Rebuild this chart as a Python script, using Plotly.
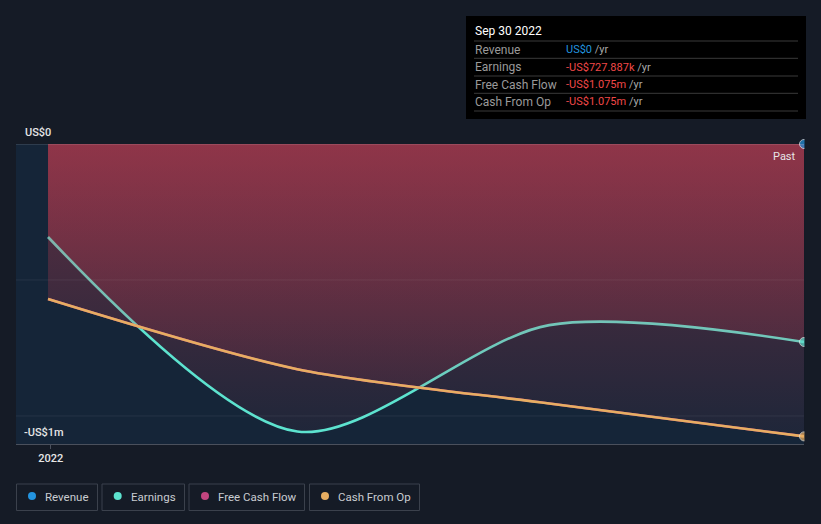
import plotly.graph_objects as go

# ---------------- data ----------------
dates = ["2021-12-31", "2022-03-31", "2022-06-30", "2022-09-30"]
revenue = [0, 0, 0, 0]
earnings = [-342000, -1057000, -666000, -727887]
free_cash_flow = [-570000, -828000, -954000, -1075000]
cash_from_op = [-570000, -828000, -954000, -1075000]

legend_names = ["Revenue", "Earnings", "Free Cash Flow", "Cash From Op"]
legend_colors = ["#2394df", "#5de3cf", "#c2457f", "#e7ae62"]

tip_title = "Sep 30 2022"
tip_labels = ["Revenue", "Earnings", "Free Cash Flow", "Cash From Op"]
tip_values = ["US$0", "-US$727.887k", "-US$1.075m", "-US$1.075m"]
tip_colors = ["#2394df", "#f04848", "#f04848", "#f04848"]

y_labels = ["US$0", "-US$1m"]
x_tick_vals = ["2022-01-01"]
x_tick_text = ["2022"]

W, H = 821, 524
L, R, T, B = 16, 804, 144, 444
YMIN, YMAX = -1103000, 0


def px(x):
    return (x - L) / (R - L)


def py(y):
    return (B - y) / (B - T)


FONT = "Roboto"
fill_scale = [
    [0.0, "rgba(212,62,82,0.04)"],
    [0.25, "rgba(212,62,82,0.13)"],
    [0.45, "rgba(212,62,82,0.20)"],
    [0.70, "rgba(212,62,82,0.29)"],
    [1.0, "rgba(212,62,82,0.40)"],
]

fig = go.Figure()

n = len(dates)
end_sizes = [0] * (n - 1) + [9]

# Earnings (fill + line)
fig.add_trace(go.Scatter(
    x=dates, y=earnings, mode="lines",
    line=dict(color="#5de3cf", width=2.6, shape="spline", smoothing=0.85),
    fill="tozeroy", fillgradient=dict(type="vertical", colorscale=fill_scale, start=YMIN, stop=0),
    hoverinfo="skip", showlegend=False))

# Free cash flow (fill)
fig.add_trace(go.Scatter(
    x=dates, y=free_cash_flow, mode="lines",
    line=dict(color="#c2457f", width=2.5, shape="spline", smoothing=0.8),
    fill="tozeroy", fillgradient=dict(type="vertical", colorscale=fill_scale, start=YMIN, stop=0),
    hoverinfo="skip", showlegend=False))

# Cash from op line
fig.add_trace(go.Scatter(
    x=dates, y=cash_from_op, mode="lines+markers",
    line=dict(color="#e7ae62", width=2.6, shape="spline", smoothing=0.8),
    marker=dict(size=end_sizes, color="#e7ae62", line=dict(color="#f0ece0", width=1)),
    cliponaxis=False, hoverinfo="skip", showlegend=False))

# Earnings end marker (on top)
fig.add_trace(go.Scatter(
    x=dates, y=earnings, mode="markers",
    marker=dict(size=end_sizes, color="#5de3cf", line=dict(color="#e8f0f0", width=1)),
    cliponaxis=False, hoverinfo="skip", showlegend=False))

# Revenue (end marker only)
fig.add_trace(go.Scatter(
    x=dates, y=revenue, mode="markers",
    marker=dict(size=end_sizes, color="#2394df", line=dict(color="#e8f0f8", width=1)),
    cliponaxis=False, hoverinfo="skip", showlegend=False))

shapes = []
# zero line / gridlines
shapes.append(dict(type="line", xref="paper", yref="y", x0=0, x1=1, y0=0, y1=0,
                   line=dict(color="rgba(255,255,255,0.22)", width=1.2), layer="above"))
for gv in [-500000, -1000000]:
    shapes.append(dict(type="line", xref="paper", yref="y", x0=0, x1=1, y0=gv, y1=gv,
                       line=dict(color="rgba(255,255,255,0.07)", width=1), layer="above"))
# cover markers overflowing to the right
shapes.append(dict(type="rect", xref="paper", yref="paper", x0=px(R + 0.5), x1=px(W + 5),
                   y0=py(B + 2), y1=py(T - 10), fillcolor="#151b26", line=dict(width=0), layer="above"))

# tooltip box
shapes.append(dict(type="rect", xref="paper", yref="paper", x0=px(466), x1=px(806), y0=py(119), y1=py(16),
                   fillcolor="#000000", line=dict(width=0), layer="above"))
for sy in [41, 58.3, 76, 93.3, 111]:
    shapes.append(dict(type="line", xref="paper", yref="paper", x0=px(474), x1=px(798), y0=py(sy), y1=py(sy),
                       line=dict(color="#3a3a3a", width=1), layer="above"))

annotations = []
annotations.append(dict(xref="paper", yref="paper", x=px(472.5), y=py(31), text=tip_title, showarrow=False,
                        xanchor="left", yanchor="middle", font=dict(family=FONT, size=12, color="#ffffff")))
row_y = [49.5, 67, 84.5, 101.8]
for lab, val, col, ry in zip(tip_labels, tip_values, tip_colors, row_y):
    annotations.append(dict(xref="paper", yref="paper", x=px(472.5), y=py(ry), text=lab, showarrow=False,
                            xanchor="left", yanchor="middle", font=dict(family=FONT, size=12, color="#9a9a9a")))
    annotations.append(dict(xref="paper", yref="paper", x=px(564), y=py(ry),
                            text=f"<span style='color:{col}'>{val}</span> /yr", showarrow=False,
                            xanchor="left", yanchor="middle", font=dict(family=FONT, size=11, color="#a8a8a8")))

# y labels
annotations.append(dict(xref="paper", yref="paper", x=px(22.5), y=py(132), text=y_labels[0], showarrow=False,
                        xanchor="left", yanchor="middle", font=dict(family=FONT, size=11, color="#e6e6e6", weight=500)))
annotations.append(dict(xref="paper", yref="paper", x=px(22), y=py(432), text=y_labels[1], showarrow=False,
                        xanchor="left", yanchor="middle", font=dict(family=FONT, size=11, color="#e6e6e6", weight=500)))
annotations.append(dict(xref="paper", yref="paper", x=px(798), y=py(156), text="Past", showarrow=False,
                        xanchor="right", yanchor="middle", font=dict(family=FONT, size=11, color="#e6e6e6")))

# custom legend
boxes = [(16.5, 97.5), (102, 184.5), (189, 304.5), (309.5, 419.5)]
dots = [32, 117.7, 205, 325]
texts_x = [42.5, 128.5, 215.5, 335.5]
for (bx0, bx1), dx, tx, name, col in zip(boxes, dots, texts_x, legend_names, legend_colors):
    shapes.append(dict(type="rect", xref="paper", yref="paper", x0=px(bx0), x1=px(bx1), y0=py(510.5), y1=py(484),
                       fillcolor="rgba(0,0,0,0)", line=dict(color="#3b414c", width=1), layer="above"))
    shapes.append(dict(type="circle", xref="paper", yref="paper", x0=px(dx - 4), x1=px(dx + 4), y0=py(500), y1=py(492),
                       fillcolor=col, line=dict(width=0), layer="above"))
    annotations.append(dict(xref="paper", yref="paper", x=px(tx), y=py(496.5), text=name, showarrow=False,
                            xanchor="left", yanchor="middle", font=dict(family=FONT, size=11.5, color="#c9ccd1")))

x0_range = "2021-12-19 10:30"
fig.update_layout(
    width=W, height=H, autosize=False,
    margin=dict(l=L, r=W - R, t=T, b=H - B),
    paper_bgcolor="#151b26", plot_bgcolor="#152538",
    font=dict(family=FONT, color="#e0e0e0"),
    showlegend=False,
    shapes=shapes, annotations=annotations,
    xaxis=dict(type="date", range=[x0_range, "2022-09-30"], tickvals=x_tick_vals, ticktext=x_tick_text,
               showgrid=False, zeroline=False, showline=True, linecolor="#4a505c", linewidth=1,
               ticks="outside", ticklen=4, tickcolor="#4a505c",
               tickfont=dict(family=FONT, size=11, color="#e6e6e6", weight=500)),
    yaxis=dict(range=[YMIN, YMAX], showgrid=False, zeroline=False, showticklabels=False, ticks=""),
)

fig.write_html("out.html")
